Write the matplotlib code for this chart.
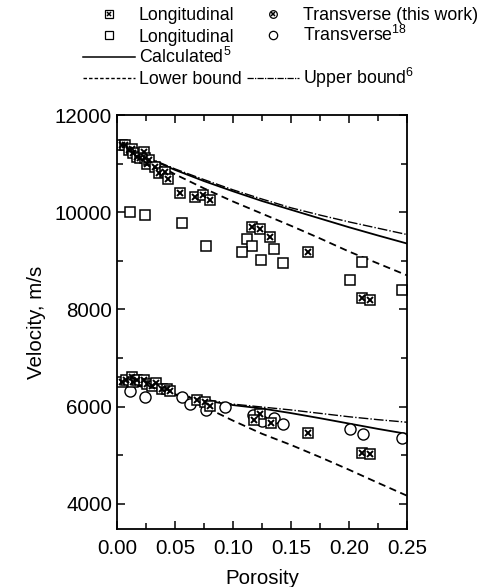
import numpy as np
import matplotlib
matplotlib.use("Agg")
import matplotlib.pyplot as plt
from matplotlib.lines import Line2D

plt.rcParams['font.family'] = ['Liberation Sans', 'DejaVu Sans']
plt.rcParams['mathtext.default'] = 'regular'

# longitudinal, this work
long_tw_x = [0.004, 0.007, 0.010, 0.013, 0.014, 0.017, 0.020, 0.023, 0.024, 0.026,
             0.028, 0.033, 0.036, 0.041, 0.044, 0.054, 0.067, 0.074, 0.080, 0.116,
             0.123, 0.132, 0.165, 0.211, 0.218]
long_tw_v = [11380, 11380, 11280, 11310, 11210, 11140, 11110, 11240, 11110, 11000,
             11070, 10935, 10800, 10830, 10690, 10385, 10315, 10350, 10250, 9700,
             9660, 9490, 9180, 8240, 8190]

# longitudinal, ref 18
long_ref_x = [0.011, 0.024, 0.056, 0.077, 0.112, 0.116, 0.108, 0.124, 0.135, 0.143,
              0.211, 0.201, 0.246]
long_ref_v = [10010, 9940, 9770, 9310, 9440, 9310, 9180, 9020, 9240, 8960,
              8980, 8610, 8390]

# transverse, this work
tr_tw_x = [0.004, 0.008, 0.013, 0.014, 0.017, 0.023, 0.026, 0.030, 0.034, 0.039,
           0.043, 0.046, 0.069, 0.076, 0.080, 0.123, 0.118, 0.133, 0.165, 0.211, 0.218]
tr_tw_v = [6500, 6550, 6600, 6500, 6540, 6550, 6470, 6430, 6480, 6365,
           6365, 6330, 6140, 6090, 6020, 5850, 5725, 5655, 5460, 5040, 5020]

# transverse, ref 18
tr_ref_x = [0.011, 0.024, 0.056, 0.063, 0.077, 0.093, 0.117, 0.125, 0.135, 0.143,
            0.201, 0.212, 0.246]
tr_ref_v = [6330, 6195, 6195, 6055, 5920, 5985, 5835, 5700, 5765, 5645,
            5540, 5440, 5355]

# model curves
phi = [0.0, 0.025, 0.05, 0.075, 0.10, 0.125, 0.15, 0.175, 0.20, 0.225, 0.25]
calc_long = [11420, 11130, 10870, 10640, 10430, 10230, 10050, 9870, 9690, 9520, 9355]
upper_long = [11420, 11140, 10890, 10670, 10460, 10270, 10090, 9940, 9800, 9670, 9540]
lower_long = [11420, 11110, 10780, 10490, 10220, 9970, 9720, 9460, 9190, 8945, 8700]
calc_tr = [6500, 6400, 6250, 6130, 6030, 5960, 5865, 5760, 5650, 5540, 5437]
upper_tr = [6500, 6390, 6260, 6150, 6050, 5990, 5930, 5860, 5790, 5730, 5677]
lower_tr = [6500, 6410, 6250, 6000, 5710, 5440, 5210, 4960, 4700, 4430, 4165]

fig = plt.figure(figsize=(4.94, 5.87), dpi=100)
ax = fig.add_axes([117/494, 1-529/587, 290/494, 414/587])

lw = 1.3
ls_lower = (0, (4, 2.5))
ls_upper = (0, (7, 1.5, 1, 1.5))
for c, u, l in [(calc_long, upper_long, lower_long), (calc_tr, upper_tr, lower_tr)]:
    ax.plot(phi, c, color='black', lw=lw, ls='-')
    ax.plot(phi, l, color='black', lw=lw, ls=ls_lower)
    ax.plot(phi, u, color='black', lw=1.0, ls=ls_upper)

ms = 7
sq = dict(ls='none', marker='s', ms=ms, mfc='white', mec='black', mew=1.1)
xx = dict(ls='none', marker='x', ms=ms*0.62, mec='black', mew=1.4)
ci = dict(ls='none', marker='o', ms=ms+1, mfc='white', mec='black', mew=1.0)

ax.plot(long_ref_x, long_ref_v, **sq)
ax.plot(tr_ref_x, tr_ref_v, **ci)
ax.plot(long_tw_x, long_tw_v, **sq)
ax.plot(long_tw_x, long_tw_v, **xx)
ax.plot(tr_tw_x, tr_tw_v, **sq)
ax.plot(tr_tw_x, tr_tw_v, **xx)

ax.set_xlim(0, 0.25)
ax.set_ylim(3480, 12000)
ax.set_xticks([0.0, 0.05, 0.10, 0.15, 0.20, 0.25])
ax.set_xticklabels(['0.00', '0.05', '0.10', '0.15', '0.20', '0.25'])
ax.set_xticks(np.arange(0.025, 0.25, 0.05), minor=True)
ax.set_yticks([4000, 6000, 8000, 10000, 12000])
ax.set_yticks([5000, 7000, 9000, 11000], minor=True)
ax.tick_params(which='both', direction='in', top=True, right=True,
               labelsize=14.8, width=1.1)
ax.tick_params(axis='x', pad=7)
ax.tick_params(axis='y', pad=3.5)
ax.tick_params(which='major', length=6)
ax.tick_params(which='minor', length=4)
for s in ax.spines.values():
    s.set_linewidth(1.3)
ax.set_xlabel('Porosity', fontsize=14.8, labelpad=8)
ax.set_ylabel('Velocity, m/s', fontsize=14.8, labelpad=6)

# legend, one cell at a time so that the two columns line up row by row
lsq = dict(ls='none', marker='s', ms=5.5, mfc='white', mec='black', mew=0.9)
lxx = dict(ls='none', marker='x', ms=3.5, mec='black', mew=1.1)
h_ltw = (Line2D([], [], **lsq), Line2D([], [], **lxx))
h_lref = Line2D([], [], **lsq)
h_calc = Line2D([], [], color='black', lw=1.1, ls='-')
h_low = Line2D([], [], color='black', lw=1.0, ls=(0, (2.5, 1.5)))
h_ttw = (Line2D([], [], ls='none', marker='o', ms=5.5, mfc='white', mec='black', mew=0.9),
         Line2D([], [], **lxx))
h_tref = Line2D([], [], ls='none', marker='o', ms=6, mfc='white', mec='black', mew=0.9)
h_up = Line2D([], [], color='black', lw=0.9, ls=(0, (5, 1, 1, 1)))

cells = [
    (h_ltw, 'Longitudinal', 0, 0),
    (h_ttw, 'Transverse (this work)', 1, 0),
    (h_lref, 'Longitudinal', 0, 1),
    (h_tref, 'Transverse$^{18}$', 1, 1),
    (h_calc, 'Calculated$^{5}$', 0, 2),
    (h_low, 'Lower bound', 0, 3),
    (h_up, 'Upper bound$^{6}$', 1, 3),
]
col_x = [83, 247]
row_y = [16, 37, 59, 80]
for h, lab, c, r in cells:
    y = row_y[r] - (2 if '^' in lab else 0)
    fig.legend([h], [lab], loc='center left',
               bbox_to_anchor=(col_x[c]/494, 1-y/587),
               frameon=False, fontsize=12.8, handlelength=2.9,
               handletextpad=0.25, borderpad=0, borderaxespad=0)

fig.savefig('out.png', dpi=100)
